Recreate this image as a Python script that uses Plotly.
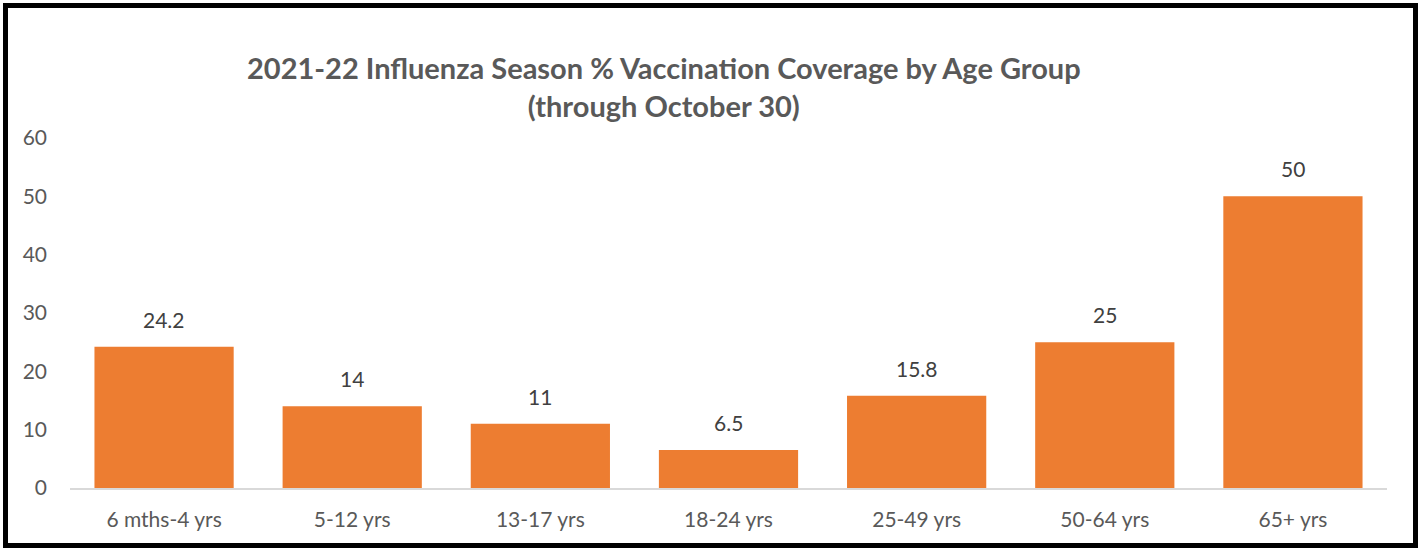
import plotly.graph_objects as go

categories = ["6 mths-4 yrs", "5-12 yrs", "13-17 yrs", "18-24 yrs", "25-49 yrs", "50-64 yrs", "65+ yrs"]
coverage = [24.2, 14, 11, 6.5, 15.8, 25, 50]
labels = ["24.2", "14", "11", "6.5", "15.8", "25", "50"]
y_ticks = [0, 10, 20, 30, 40, 50, 60]

W, H = 1422, 550
L, R, T, B = 70, 35, 138, 62
pw, ph = W - L - R, H - T - B

def px_x(px):
    return (px - L) / pw

def px_y(py):
    return (H - B - py) / ph

FONT = "Lato, Open Sans, sans-serif"

fig = go.Figure(go.Bar(
    x=categories, y=coverage,
    marker=dict(color="#ED7D31", line=dict(width=0)),
    hoverinfo="x+y",
))

annotations = [dict(
    x=c, y=v, text=t, xref="x", yref="y", showarrow=False,
    xanchor="center", yanchor="bottom", yshift=13,
    font=dict(family=FONT, size=21, color="#404040"),
) for c, v, t in zip(categories, coverage, labels)]

annotations.append(dict(
    text="<b>2021-22 Influenza Season % Vaccination Coverage by Age Group<br>(through October 30)</b>",
    x=px_x(664), y=px_y(86), xref="paper", yref="paper",
    xanchor="center", yanchor="middle", showarrow=False, align="center",
    font=dict(family=FONT, size=29, color="#595959"),
))

fig.update_layout(
    width=W, height=H,
    margin=dict(l=L, r=R, t=T, b=B),
    paper_bgcolor="white", plot_bgcolor="white",
    bargap=0.26,
    showlegend=False,
    font=dict(family=FONT, color="#595959"),
    xaxis=dict(showgrid=False, showline=True, linecolor="#D9D9D9", linewidth=2,
               ticks="", ticklabelstandoff=12,
               tickfont=dict(family=FONT, size=21, color="#595959")),
    yaxis=dict(range=[0, 60], tickvals=y_ticks, showgrid=False, showline=False,
               zeroline=False, ticks="", ticklabelstandoff=22,
               tickfont=dict(family=FONT, size=21, color="#595959")),
    annotations=annotations,
    shapes=[dict(
        type="rect", xref="paper", yref="paper",
        x0=px_x(5.5), x1=px_x(1415.5), y0=px_y(545.5), y1=px_y(5.5),
        line=dict(color="black", width=5), fillcolor="rgba(0,0,0,0)", layer="above",
    )],
)

fig.write_html("out.html", config={"displayModeBar": False},
               post_script="document.body.style.margin='0';document.body.style.padding='0';document.body.style.overflow='hidden';")
